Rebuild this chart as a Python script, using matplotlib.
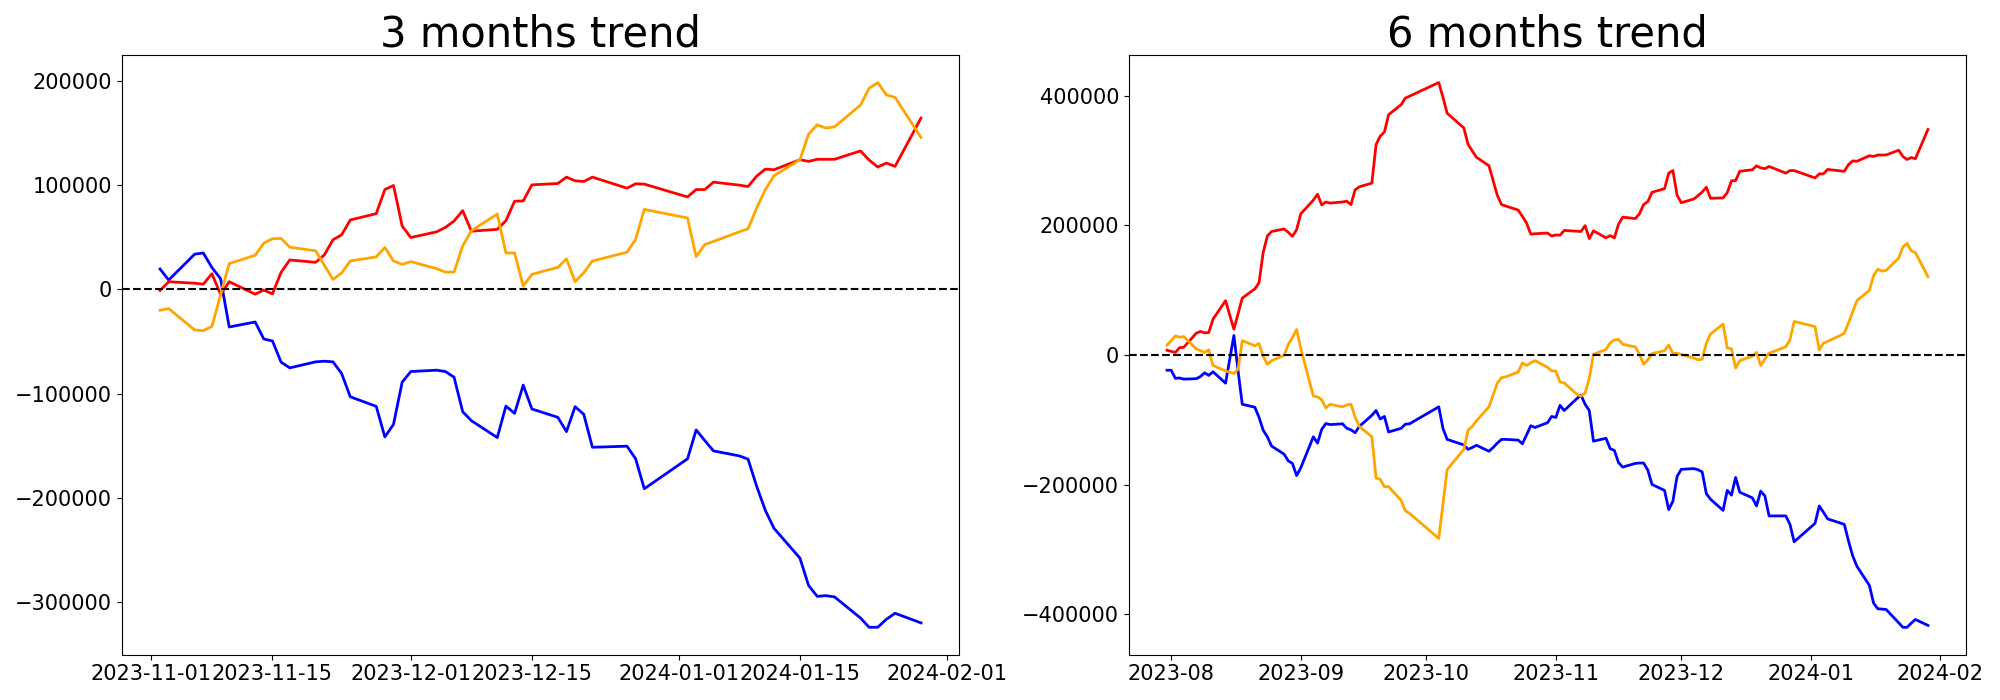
import matplotlib
matplotlib.use("Agg")
import matplotlib.pyplot as plt
import pandas as pd

# trading days (KRX holidays excluded)
holidays = ["2023-08-15", "2023-09-28", "2023-09-29", "2023-10-02", "2023-10-03",
            "2023-10-09", "2023-12-25", "2023-12-29", "2024-01-01"]
dates_6m = pd.bdate_range("2023-07-31", "2024-01-29", freq="C", holidays=holidays)
dates_3m = pd.bdate_range("2023-11-02", "2024-01-29", freq="C", holidays=holidays)

# 3 months cumulative flows
blue_3m = [19600, 9000, 33800, 35000, 21000, 10300, -36000, -31200, -47500, -49400,
           -69700, -75200, -69400, -68800, -69400, -80600, -102900, -112100, -141400, -129300,
           -88900, -78700, -77400, -78700, -84100, -117200, -125800, -142000, -111800, -118800,
           -91700, -114600, -122600, -136300, -112400, -119700, -151300, -150300, -162400, -191100,
           -162400, -134700, -144900, -154800, -159600, -162700, -188800, -211800, -229000, -257600,
           -283800, -294300, -293600, -294800, -315000, -323900, -323900, -316200, -310500, -319700]
red_3m = [-1000, 7400, 6000, 5100, 15100, -4800, 7400, -4500, -600, -4200,
          16400, 28300, 26000, 33100, 47600, 52400, 66600, 72700, 95800, 99700,
          60800, 49800, 55300, 59500, 65600, 75600, 55900, 57600, 65900, 84600,
          84900, 100300, 101600, 107700, 104200, 103500, 107700, 97100, 101300, 101000,
          88700, 95800, 95800, 102900, 100000, 98700, 108700, 115400, 114800, 124400,
          122800, 124800, 124800, 124800, 132800, 124100, 117400, 121200, 118000, 164300]
orange_3m = [-19900, -18300, -38900, -39500, -35400, -5000, 24800, 32800, 44400, 48600,
             48900, 40500, 37000, 23200, 9600, 15800, 27300, 31200, 40200, 27300,
             24100, 26700, 19900, 16700, 16700, 41800, 56300, 72300, 35000, 35000,
             3200, 14500, 21200, 29300, 7400, 16100, 27300, 35700, 48200, 76800,
             68500, 31500, 43100, 46000, 55300, 58200, 78100, 95800, 109000, 124400,
             148900, 157900, 154700, 155900, 176800, 192900, 198400, 186500, 184200, 145700]

# 6 months cumulative flows
blue_6m = [-23400, -23400, -35900, -35400, -37100, -36500, -33100, -27400, -31400, -25700,
           -43400, 30200, -24500, -75900, -80500, -95900, -115800, -126100, -140400, -152900,
           -163200, -167200, -186000, -174000, -126100, -135800, -114700, -105600, -107300, -106100,
           -113000, -115300, -119800, -110100, -93000, -85600, -98700, -94700, -118700, -113000,
           -106700, -106100, -79900, -113000, -130100, -138700, -145500, -142700, -139200, -148400,
           -142700, -135800, -130100, -130100, -131200, -136900, -123300, -109000, -111800, -104400,
           -94700, -96200, -77600, -85600, -67300, -61600, -75900, -85600, -132900, -128400,
           -144400, -147200, -166000, -172900, -167200, -166600, -166600, -177500, -199700, -208800,
           -238500, -225400, -187200, -176300, -175200, -176900, -180300, -214000, -222500, -239700,
           -208800, -216200, -188900, -211700, -220300, -232800, -210000, -217400, -248200, -248200,
           -261300, -288100, -259600, -232800, -242500, -252800, -259100, -261300, -287000, -309800,
           -325800, -355500, -382900, -391400, -392000, -392600, -413100, -420000, -420000, -413700,
           -408000, -417100]
red_6m = [7400, 5700, 4000, 11400, 12000, 33700, 36500, 34200, 34800, 55300,
          83900, 39900, 63900, 87900, 102100, 111300, 158100, 183700, 190600, 194600,
          189400, 183200, 193400, 218000, 239100, 248200, 231700, 236200, 234500, 236200,
          237400, 232200, 255100, 259600, 265300, 324700, 337800, 344100, 370900, 386300,
          396600, 399400, 420500, 397700, 373200, 350400, 325200, 315000, 305300, 292100,
          269300, 246500, 232200, 230000, 223700, 214000, 203700, 186600, 187200, 188300,
          183700, 185400, 184900, 192300, 191100, 190600, 199700, 179700, 191700, 180900,
          184300, 180900, 202000, 212800, 210600, 218000, 232200, 236800, 251100, 256800,
          280700, 284700, 246500, 235100, 240800, 245900, 251600, 259000, 241900, 242500,
          250500, 268800, 269300, 283600, 285900, 292100, 288700, 287600, 291000, 280700,
          284700, 284700, 273300, 279600, 279600, 286400, 284200, 283600, 293900, 299600,
          299000, 307600, 306400, 308700, 308700, 308700, 316100, 306400, 301800, 304700,
          303000, 348100]
orange_6m = [15400, 22300, 29700, 27400, 28500, 9700, 6800, 4000, 8000, -16000,
             -24500, -28500, -21700, 22300, 14300, 17700, -1700, -14300, -8600, -600,
             16500, 26800, 39400, 10000, -63300, -64500, -69000, -81600, -75900, -79900,
             -77000, -75900, -95900, -110100, -126100, -190000, -191700, -203100, -203100, -224200,
             -240200, -244200, -283000, -230000, -176800, -145500, -115800, -110100, -101600, -79900,
             -61600, -43400, -34800, -33700, -26200, -12000, -16000, -12000, -8600, -18800,
             -24500, -24500, -41700, -42800, -60500, -63300, -58800, -35900, 1100, 8600,
             18800, 23400, 24000, 16500, 12600, 1100, -14300, -7400, 2300, 6800,
             15400, 2300, 2900, 1100, -4600, -7400, -6300, 18300, 32500, 47900,
             10800, 9700, -20000, -8600, -1700, 4000, -16000, -6300, 2900, 12600,
             24000, 51900, 43900, 8000, 18300, 21100, 30200, 33700, 49600, 66800,
             83900, 99900, 122700, 132400, 129500, 130700, 149500, 166600, 172300, 160900,
             158100, 121000]

fig, axes = plt.subplots(1, 2, figsize=(20, 7), dpi=100)

panels = [
    (axes[0], dates_3m, blue_3m, red_3m, orange_3m, "3 months trend"),
    (axes[1], dates_6m, blue_6m, red_6m, orange_6m, "6 months trend"),
]
for ax, d, b, r, o, title in panels:
    ax.plot(d, b, color="blue", linewidth=2)
    ax.plot(d, r, color="red", linewidth=2)
    ax.plot(d, o, color="orange", linewidth=2)
    ax.axhline(0, color="black", linestyle="--", linewidth=1.5)
    ax.set_title(title, fontsize=30)
    ax.tick_params(axis="both", labelsize=15)

plt.subplots_adjust(left=0.061, right=0.983, bottom=0.065, top=0.921, wspace=0.203)
plt.savefig("out.png")
